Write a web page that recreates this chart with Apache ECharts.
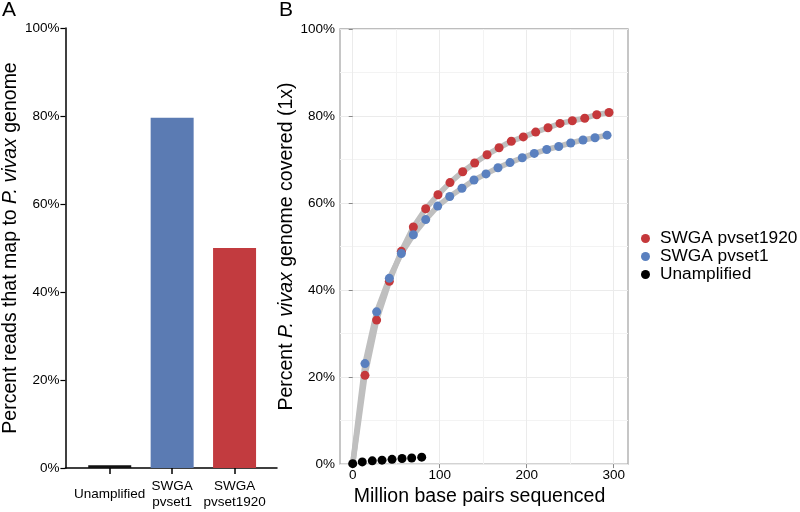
<!DOCTYPE html>
<html>
<head>
<meta charset="utf-8">
<script src="https://cdn.jsdelivr.net/npm/echarts@6/dist/echarts.min.js"></script>
<style>
html,body{margin:0;padding:0;background:#fff;}
#chart{width:800px;height:512px;}
</style>
</head>
<body>
<div id="chart"></div>
<script>
// ---- Panel A data ----
const categoriesA = ['Unamplified', 'SWGA\npvset1', 'SWGA\npvset1920'];
const positionsA = [1, 2, 3];
const valuesA = [0.6, 79.6, 50.0];
const barColorsA = ['#111111', '#5b7bb3', '#c23b3f'];

// ---- Panel B data ----
const seriesNamesB = ['SWGA pvset1920', 'SWGA pvset1', 'Unamplified'];
const pvset1920X = [14.1, 27.5, 42.1, 55.9, 69.7, 83.9, 98.0, 111.8, 126.4, 140.2, 154.4, 168.2, 182.3, 196.1, 210.3, 224.5, 238.3, 252.4, 266.7, 280.5, 294.6];
const pvset1920Y = [20.4, 33.1, 42.0, 48.9, 54.5, 58.7, 61.9, 64.7, 67.2, 69.2, 71.1, 72.7, 74.2, 75.2, 76.3, 77.3, 78.3, 78.9, 79.5, 80.3, 80.8];
const pvset1X = [14.1, 27.5, 42.1, 55.9, 69.7, 83.9, 97.7, 111.5, 125.6, 139.4, 153.2, 167.0, 180.8, 194.9, 208.7, 223.0, 236.8, 250.6, 264.7, 278.5, 292.3];
const pvset1Y = [23.1, 35.0, 42.7, 48.4, 52.7, 56.2, 59.3, 61.5, 63.4, 65.3, 66.7, 68.1, 69.3, 70.4, 71.4, 72.3, 73.0, 73.8, 74.5, 75.0, 75.6];
const unampX = [0, 11.0, 22.5, 33.7, 45.2, 56.7, 67.8, 79.3];
const unampY = [0.1, 0.5, 0.75, 0.9, 1.1, 1.3, 1.4, 1.6];
const curveOrigin = [0, 0];
const xTicksB = [0, 100, 200, 300];
const xMinorB = [50, 150, 250];

const FONT = '"Liberation Sans", Arial, Helvetica, sans-serif';
const zip = (xs, ys) => xs.map((x, i) => [x, ys[i]]);

const chart = echarts.init(document.getElementById('chart'), null, {renderer: 'canvas'});

const option = {
  animation: false,
  textStyle: {fontFamily: FONT, color: '#000'},
  title: [
    {text: 'A', left: 2, top: 0, padding: 0, textStyle: {fontFamily: FONT, fontSize: 21, fontWeight: 'normal', color: '#000'}},
    {text: 'B', left: 279, top: 0, padding: 0, textStyle: {fontFamily: FONT, fontSize: 21, fontWeight: 'normal', color: '#000'}}
  ],
  grid: [
    {left: 62, top: 28, width: 215, height: 440, containLabel: false},
    {left: 340, top: 29, width: 288, height: 440, containLabel: false, show: true, borderColor: '#a8a8a8', borderWidth: 1.3, backgroundColor: 'transparent'}
  ],
  legend: {
    data: seriesNamesB,
    orient: 'vertical',
    left: 636,
    top: 225,
    icon: 'circle',
    itemWidth: 9,
    itemHeight: 9,
    itemGap: 1,
    textStyle: {fontFamily: FONT, fontSize: 17.3, color: '#000', padding: [0, 0, 0, 5]}
  },
  xAxis: [
    {
      gridIndex: 0, type: 'value', min: 0.29, max: 3.68,
      axisLine: {show: true, onZero: false, lineStyle: {color: '#000', width: 1.5}},
      axisTick: {show: true, length: 6, customValues: positionsA, lineStyle: {color: '#000', width: 1.5}},
      axisLabel: {show: true, customValues: positionsA, margin: 26, verticalAlign: 'middle', fontSize: 13.5, color: '#000', fontFamily: FONT, lineHeight: 16,
        formatter: v => categoriesA[Math.round(v) - 1]},
      splitLine: {show: false}
    },
    {
      gridIndex: 1, type: 'value', min: -14.6, max: 316.4, position: 'bottom',
      axisLine: {show: false},
      axisTick: {show: true, length: 4, customValues: xTicksB, lineStyle: {color: '#888'}},
      axisLabel: {show: true, customValues: xTicksB, margin: 4, fontSize: 13.5, color: '#000', fontFamily: FONT},
      splitLine: {show: true, lineStyle: {color: '#ebebeb', width: 1}},
      name: 'Million base pairs sequenced', nameLocation: 'middle', nameGap: 17,
      nameTextStyle: {fontFamily: FONT, fontSize: 19.5, color: '#000', verticalAlign: 'top', padding: [0, 9, 0, 0]}
    },
    {
      gridIndex: 1, type: 'value', min: -14.6, max: 316.4, position: 'top',
      axisLine: {show: false},
      axisTick: {show: false, customValues: xMinorB},
      axisLabel: {show: false},
      splitLine: {show: true, lineStyle: {color: '#f3f3f3', width: 1}}
    }
  ],
  yAxis: [
    {
      gridIndex: 0, type: 'value', min: 0, max: 100, interval: 20,
      axisLine: {show: true, lineStyle: {color: '#000', width: 1.5}},
      axisTick: {show: true, length: 5, lineStyle: {color: '#000', width: 1.2}},
      axisLabel: {margin: 6, fontSize: 13.5, color: '#000', fontFamily: FONT, formatter: '{value}%'},
      splitLine: {show: false},
      name: '{n|Percent reads that map to }{i|P. vivax}{n| genome}',
      nameLocation: 'middle', nameGap: 43, nameRotate: 90,
      nameTextStyle: {rich: {
        n: {fontFamily: FONT, fontSize: 19.5, color: '#000'},
        i: {fontFamily: FONT, fontSize: 19.5, color: '#000', fontStyle: 'italic'}
      }}
    },
    {
      gridIndex: 1, type: 'value', min: 0, max: 100, interval: 20,
      axisLine: {show: false},
      axisTick: {show: true, length: 4, lineStyle: {color: '#888'}},
      axisLabel: {margin: 5, fontSize: 13.5, color: '#000', fontFamily: FONT, formatter: '{value}%'},
      splitLine: {show: true, lineStyle: {color: '#ebebeb', width: 1}},
      minorTick: {show: false, splitNumber: 2},
      minorSplitLine: {show: true, lineStyle: {color: '#f3f3f3', width: 1}},
      name: '{n|Percent }{i|P. vivax}{n| genome covered (1x)}',
      nameLocation: 'middle', nameGap: 35, nameRotate: 90,
      nameTextStyle: {rich: {
        n: {fontFamily: FONT, fontSize: 19.5, color: '#000'},
        i: {fontFamily: FONT, fontSize: 19.5, color: '#000', fontStyle: 'italic'}
      }}
    }
  ],
  series: [
    {
      type: 'bar', xAxisIndex: 0, yAxisIndex: 0, barWidth: 43,
      data: positionsA.map((p, i) => ({value: [p, valuesA[i]], itemStyle: {color: barColorsA[i]}}))
    },
    {
      type: 'line', name: 'curve1920', xAxisIndex: 1, yAxisIndex: 1, showSymbol: false, symbol: 'none',
      lineStyle: {color: '#bfbfbf', width: 5.5}, z: 1, silent: true,
      data: [curveOrigin].concat(zip(pvset1920X, pvset1920Y))
    },
    {
      type: 'line', name: 'curve1', xAxisIndex: 1, yAxisIndex: 1, showSymbol: false, symbol: 'none',
      lineStyle: {color: '#bfbfbf', width: 5.5}, z: 1, silent: true,
      data: [curveOrigin].concat(zip(pvset1X, pvset1Y))
    },
    {
      type: 'scatter', name: seriesNamesB[2], xAxisIndex: 1, yAxisIndex: 1, symbolSize: 9, z: 3,
      itemStyle: {color: '#000', opacity: 1},
      data: zip(unampX, unampY)
    },
    {
      type: 'scatter', name: seriesNamesB[0], xAxisIndex: 1, yAxisIndex: 1, symbolSize: 9, z: 3,
      itemStyle: {color: '#c5383b', opacity: 1},
      data: zip(pvset1920X, pvset1920Y)
    },
    {
      type: 'scatter', name: seriesNamesB[1], xAxisIndex: 1, yAxisIndex: 1, symbolSize: 9, z: 4,
      itemStyle: {color: '#5a80bf', opacity: 1},
      data: zip(pvset1X, pvset1Y)
    }
  ]
};
chart.setOption(option);
</script>
</body>
</html>
